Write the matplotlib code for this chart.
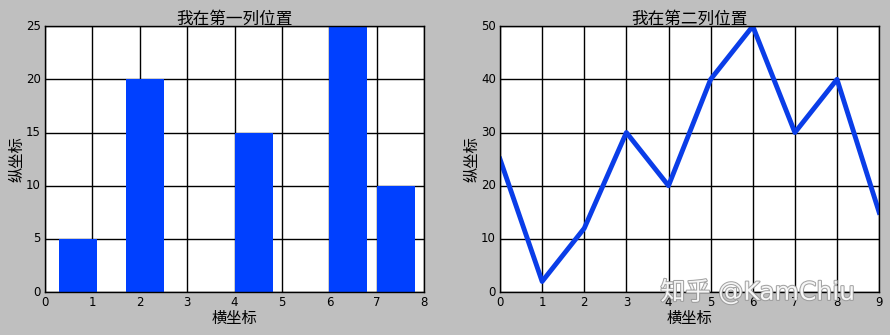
import matplotlib
matplotlib.use("Agg")
import matplotlib.pyplot as plt
import matplotlib.patheffects as pe

plt.style.use("classic")
plt.rcParams["font.family"] = ["DejaVu Sans", "Noto Sans CJK SC"]

# ---------------------------- DATA ----------------------------
bar_x = [0.3, 1.7, 4.0, 6.0, 7.0]
bar_h = [5, 20, 15, 25, 10]

line_x = [0, 1, 2, 3, 4, 5, 6, 7, 8, 9]
line_y = [25, 2, 12, 30, 20, 40, 50, 30, 40, 15]

# ---------------------------- FIGURE ----------------------------
fig = plt.figure(figsize=(8.9, 3.35), dpi=100)
fig.patch.set_facecolor("#bfbfbf")

ax1 = fig.add_axes([0.0506, 0.128, 0.426, 0.794])
ax2 = fig.add_axes([0.5618, 0.128, 0.426, 0.794])

ax1.bar(bar_x, bar_h, width=0.8, align="edge", color="#0040ff", edgecolor="#0040ff", linewidth=0)
ax1.set_xlim(0, 8)
ax1.set_ylim(0, 25)
ax1.set_title("我在第一列位置", fontsize=12, pad=2)
ax1.set_xlabel("横坐标", fontsize=11, labelpad=1)
ax1.set_ylabel("纵坐标", fontsize=11, labelpad=1)

ax2.plot(line_x, line_y, color="#0a3de8", linewidth=3.5)
ax2.set_xlim(0, 9)
ax2.set_ylim(0, 50)
ax2.set_title("我在第二列位置", fontsize=12, pad=2)
ax2.set_xlabel("横坐标", fontsize=11, labelpad=1)
ax2.set_ylabel("纵坐标", fontsize=11, labelpad=1)

for ax in (ax1, ax2):
    ax.grid(True, linestyle="-", color="black", linewidth=1)
    ax.set_axisbelow(True)
    ax.tick_params(labelsize=8.5, length=0, pad=3)
    for s in ax.spines.values():
        s.set_linewidth(1)

# watermark
fig.text(0.742, 0.105, "知乎 @KamChiu", fontsize=18, color="white", alpha=0.9,
         path_effects=[pe.withStroke(linewidth=1.5, foreground="#999999")])

fig.savefig("out.png", dpi=100, facecolor=fig.get_facecolor())
